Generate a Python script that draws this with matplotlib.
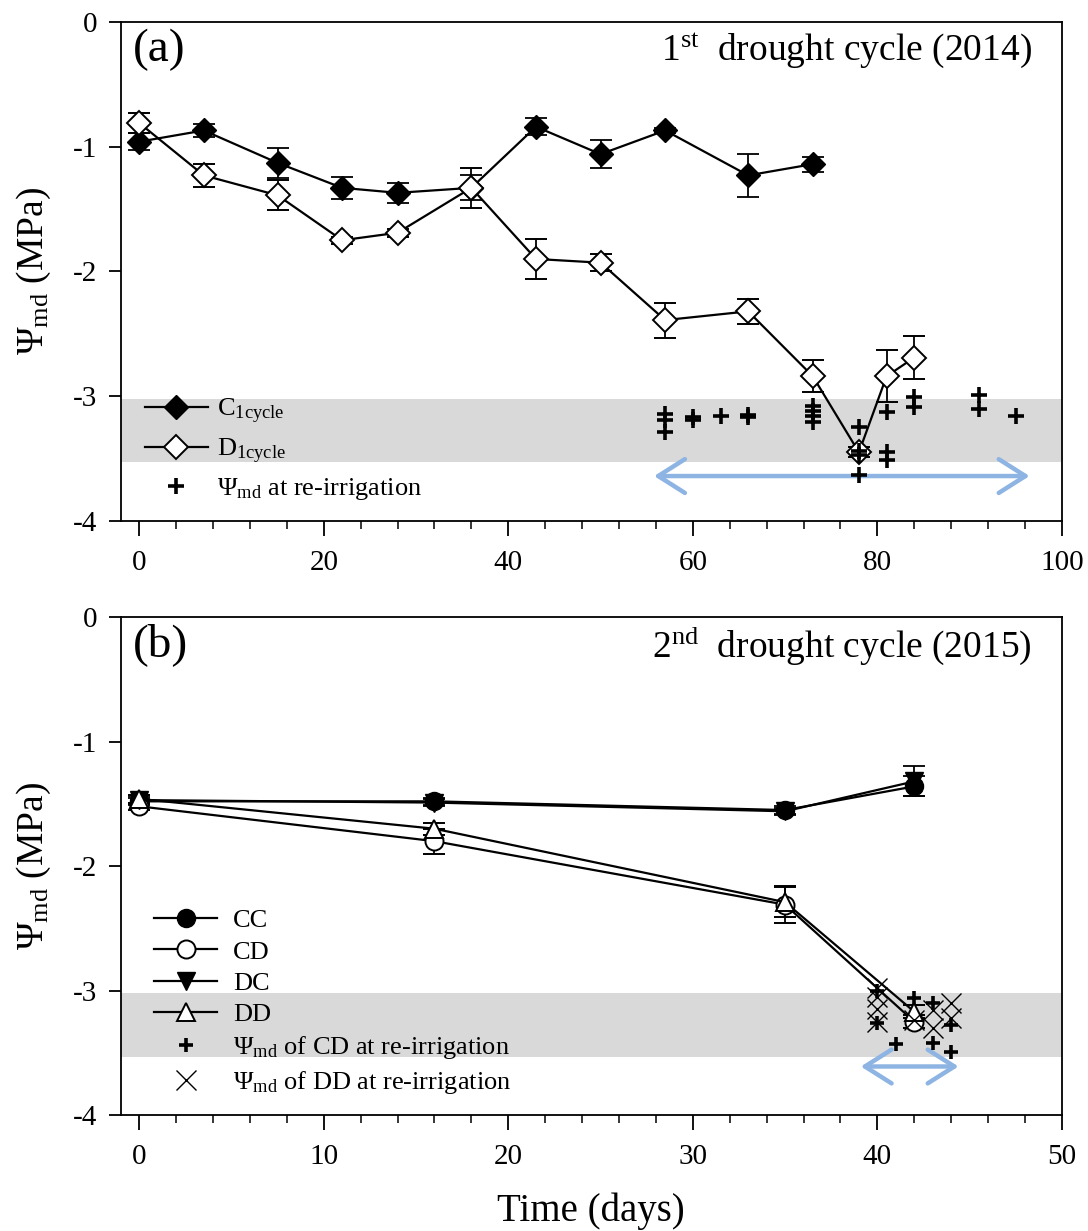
import matplotlib
matplotlib.use('Agg')
import matplotlib.pyplot as plt
from matplotlib.ticker import MultipleLocator

plt.rcParams['font.family'] = ['Liberation Serif', 'DejaVu Serif']
plt.rcParams['mathtext.fontset'] = 'custom'
plt.rcParams['mathtext.rm'] = 'Liberation Serif'
plt.rcParams['mathtext.it'] = 'Liberation Serif:italic'
plt.rcParams['axes.unicode_minus'] = False

# ---- panel (a): 1st drought cycle (2014) ----
days_C1 = [0, 7, 15, 22, 28, 36, 43, 50, 57, 66, 73]
psi_C1 = [-0.96, -0.87, -1.13, -1.33, -1.37, -1.33, -0.84, -1.06, -0.87, -1.23, -1.14]
err_C1 = [0.07, 0.05, 0.12, 0.09, 0.08, 0.10, 0.07, 0.11, 0.02, 0.17, 0.06]

days_D1 = [0, 7, 15, 22, 28, 36, 43, 50, 57, 66, 73, 78, 81, 84]
psi_D1 = [-0.81, -1.23, -1.39, -1.75, -1.69, -1.33, -1.90, -1.93, -2.39, -2.32, -2.84, -3.45, -2.84, -2.69]
err_D1 = [0.08, 0.09, 0.12, 0.03, 0.03, 0.16, 0.16, 0.07, 0.14, 0.10, 0.13, 0.04, 0.21, 0.17]

rewater_day_a = [57, 57, 57, 60, 60, 63, 66, 66, 73, 73, 73, 73,
                 78, 78, 78, 78, 81, 81, 81, 84, 84, 91, 91, 95]
rewater_psi_a = [-3.14, -3.19, -3.29, -3.17, -3.19, -3.16, -3.15, -3.17, -3.08, -3.12, -3.16, -3.21,
                 -3.25, -3.44, -3.47, -3.63, -3.13, -3.45, -3.51, -3.01, -3.09, -2.99, -3.10, -3.16]

# ---- panel (b): 2nd drought cycle (2015) ----
days_b = [0, 16, 35, 42]
psi_CC = [-1.48, -1.48, -1.55, -1.36]
err_CC = [0.03, 0.03, 0.03, 0.08]
psi_CD = [-1.52, -1.80, -2.31, -3.25]
err_CD = [0.03, 0.10, 0.15, 0.05]
psi_DC = [-1.47, -1.49, -1.56, -1.32]
err_DC = [0.03, 0.03, 0.03, 0.12]
psi_DD = [-1.46, -1.70, -2.29, -3.17]
err_DD = [0.03, 0.05, 0.12, 0.05]

rewater_day_CD = [40, 40, 41, 42, 43, 43, 44, 44]
rewater_psi_CD = [-3.00, -3.26, -3.43, -3.06, -3.10, -3.42, -3.28, -3.49]
rewater_day_DD = [40, 40, 40, 40, 42, 43, 43, 44, 44]
rewater_psi_DD = [-2.98, -3.05, -3.15, -3.25, -3.24, -3.16, -3.30, -3.10, -3.22]

# threshold band and re-irrigation period
band = (-3.53, -3.02)
arrow_a = (55.8, 96.5, -3.64)
arrow_b = (39.1, 44.4, -3.61)

fig = plt.figure(figsize=(10.88, 12.31), dpi=100)
ax1 = fig.add_axes([0.111, 0.5768, 0.865, 0.4054])
ax2 = fig.add_axes([0.111, 0.0942, 0.865, 0.4045])

eb_kw = dict(ecolor='black', elinewidth=1.3, capsize=8, capthick=1.3, color='black', lw=1.6)
arrow_kw = dict(arrowstyle='<->,head_length=0.6,head_width=0.38', color='#8db4e2',
                lw=3.2, mutation_scale=32, shrinkA=0, shrinkB=0)

# panel a
ax1.axhspan(band[0], band[1], color='#d9d9d9', lw=0, zorder=0)
c1 = ax1.errorbar(days_C1, psi_C1, yerr=err_C1, marker='D', ms=12, mfc='black', mec='black', zorder=3, **eb_kw)
d1 = ax1.errorbar(days_D1, psi_D1, yerr=err_D1, marker='D', ms=12, mfc='white', mec='black', mew=1.4, zorder=4, **eb_kw)
p1, = ax1.plot(rewater_day_a, rewater_psi_a, ls='none', marker='+', ms=11, mew=2.6, color='black', zorder=5)
ax1.annotate('', xy=(arrow_a[1], arrow_a[2]), xytext=(arrow_a[0], arrow_a[2]), arrowprops=arrow_kw)
ax1.legend([c1[0], d1[0], p1],
           ['C$_{\\mathrm{1cycle}}$', 'D$_{\\mathrm{1cycle}}$', 'Ψ$_{\\mathrm{md}}$ at re-irrigation'],
           loc='lower left', bbox_to_anchor=(0.0, -0.01), frameon=False, fontsize=19,
           handlelength=2.4, labelspacing=0.4, handletextpad=0.35)
ax1.set_xlim(-2, 100)
ax1.xaxis.set_major_locator(MultipleLocator(20))
ax1.xaxis.set_minor_locator(MultipleLocator(4))
ax1.text(0.013, 0.945, '(a)', transform=ax1.transAxes, fontsize=34, va='center', ha='left')
ax1.text(0.968, 0.942, '1$^{\\mathrm{st}}$  drought cycle (2014)', transform=ax1.transAxes,
         fontsize=27, va='center', ha='right')

# panel b
ax2.axhspan(band[0], band[1], color='#d9d9d9', lw=0, zorder=0)
cc = ax2.errorbar(days_b, psi_CC, yerr=err_CC, marker='o', ms=13, mfc='black', mec='black', zorder=3, **eb_kw)
cd = ax2.errorbar(days_b, psi_CD, yerr=err_CD, marker='o', ms=13, mfc='white', mec='black', mew=1.4, zorder=3, **eb_kw)
dc = ax2.errorbar(days_b, psi_DC, yerr=err_DC, marker='v', ms=13, mfc='black', mec='black', zorder=3, **eb_kw)
dd = ax2.errorbar(days_b, psi_DD, yerr=err_DD, marker='^', ms=13, mfc='white', mec='black', mew=1.4, zorder=3, **eb_kw)
p2, = ax2.plot(rewater_day_CD, rewater_psi_CD, ls='none', marker='+', ms=10, mew=2.6, color='black', zorder=5)
x2, = ax2.plot(rewater_day_DD, rewater_psi_DD, ls='none', marker='x', ms=14, mew=1.0, color='black', zorder=5)
ax2.annotate('', xy=(arrow_b[1], arrow_b[2]), xytext=(arrow_b[0], arrow_b[2]), arrowprops=arrow_kw)
ax2.legend([cc[0], cd[0], dc[0], dd[0], p2, x2],
           ['CC', 'CD', 'DC', 'DD', 'Ψ$_{\\mathrm{md}}$ of CD at re-irrigation',
            'Ψ$_{\\mathrm{md}}$ of DD at re-irrigation'],
           loc='lower left', bbox_to_anchor=(0.01, -0.01), frameon=False, fontsize=19,
           handlelength=2.4, labelspacing=0.3, handletextpad=0.6)
ax2.set_xlim(-1, 50)
ax2.xaxis.set_major_locator(MultipleLocator(10))
ax2.xaxis.set_minor_locator(MultipleLocator(2))
ax2.text(0.013, 0.945, '(b)', transform=ax2.transAxes, fontsize=34, va='center', ha='left')
ax2.text(0.968, 0.942, '2$^{\\mathrm{nd}}$  drought cycle (2015)', transform=ax2.transAxes,
         fontsize=27, va='center', ha='right')
ax2.set_xlabel('Time (days)', fontsize=28, labelpad=16)

for ax in (ax1, ax2):
    ax.set_ylim(-4, 0)
    ax.yaxis.set_major_locator(MultipleLocator(1))
    ax.tick_params(which='major', direction='out', length=9, width=1.3, labelsize=21, pad=8)
    ax.tick_params(which='minor', direction='out', length=6, width=1.1)
    ax.tick_params(axis='x', which='major', length=11, pad=10)
    for s in ax.spines.values():
        s.set_linewidth(1.3)
    ax.set_ylabel('Ψ$_{\\mathrm{md}}$ (MPa)', fontsize=27, labelpad=14)

fig.savefig('out.png', dpi=100)
